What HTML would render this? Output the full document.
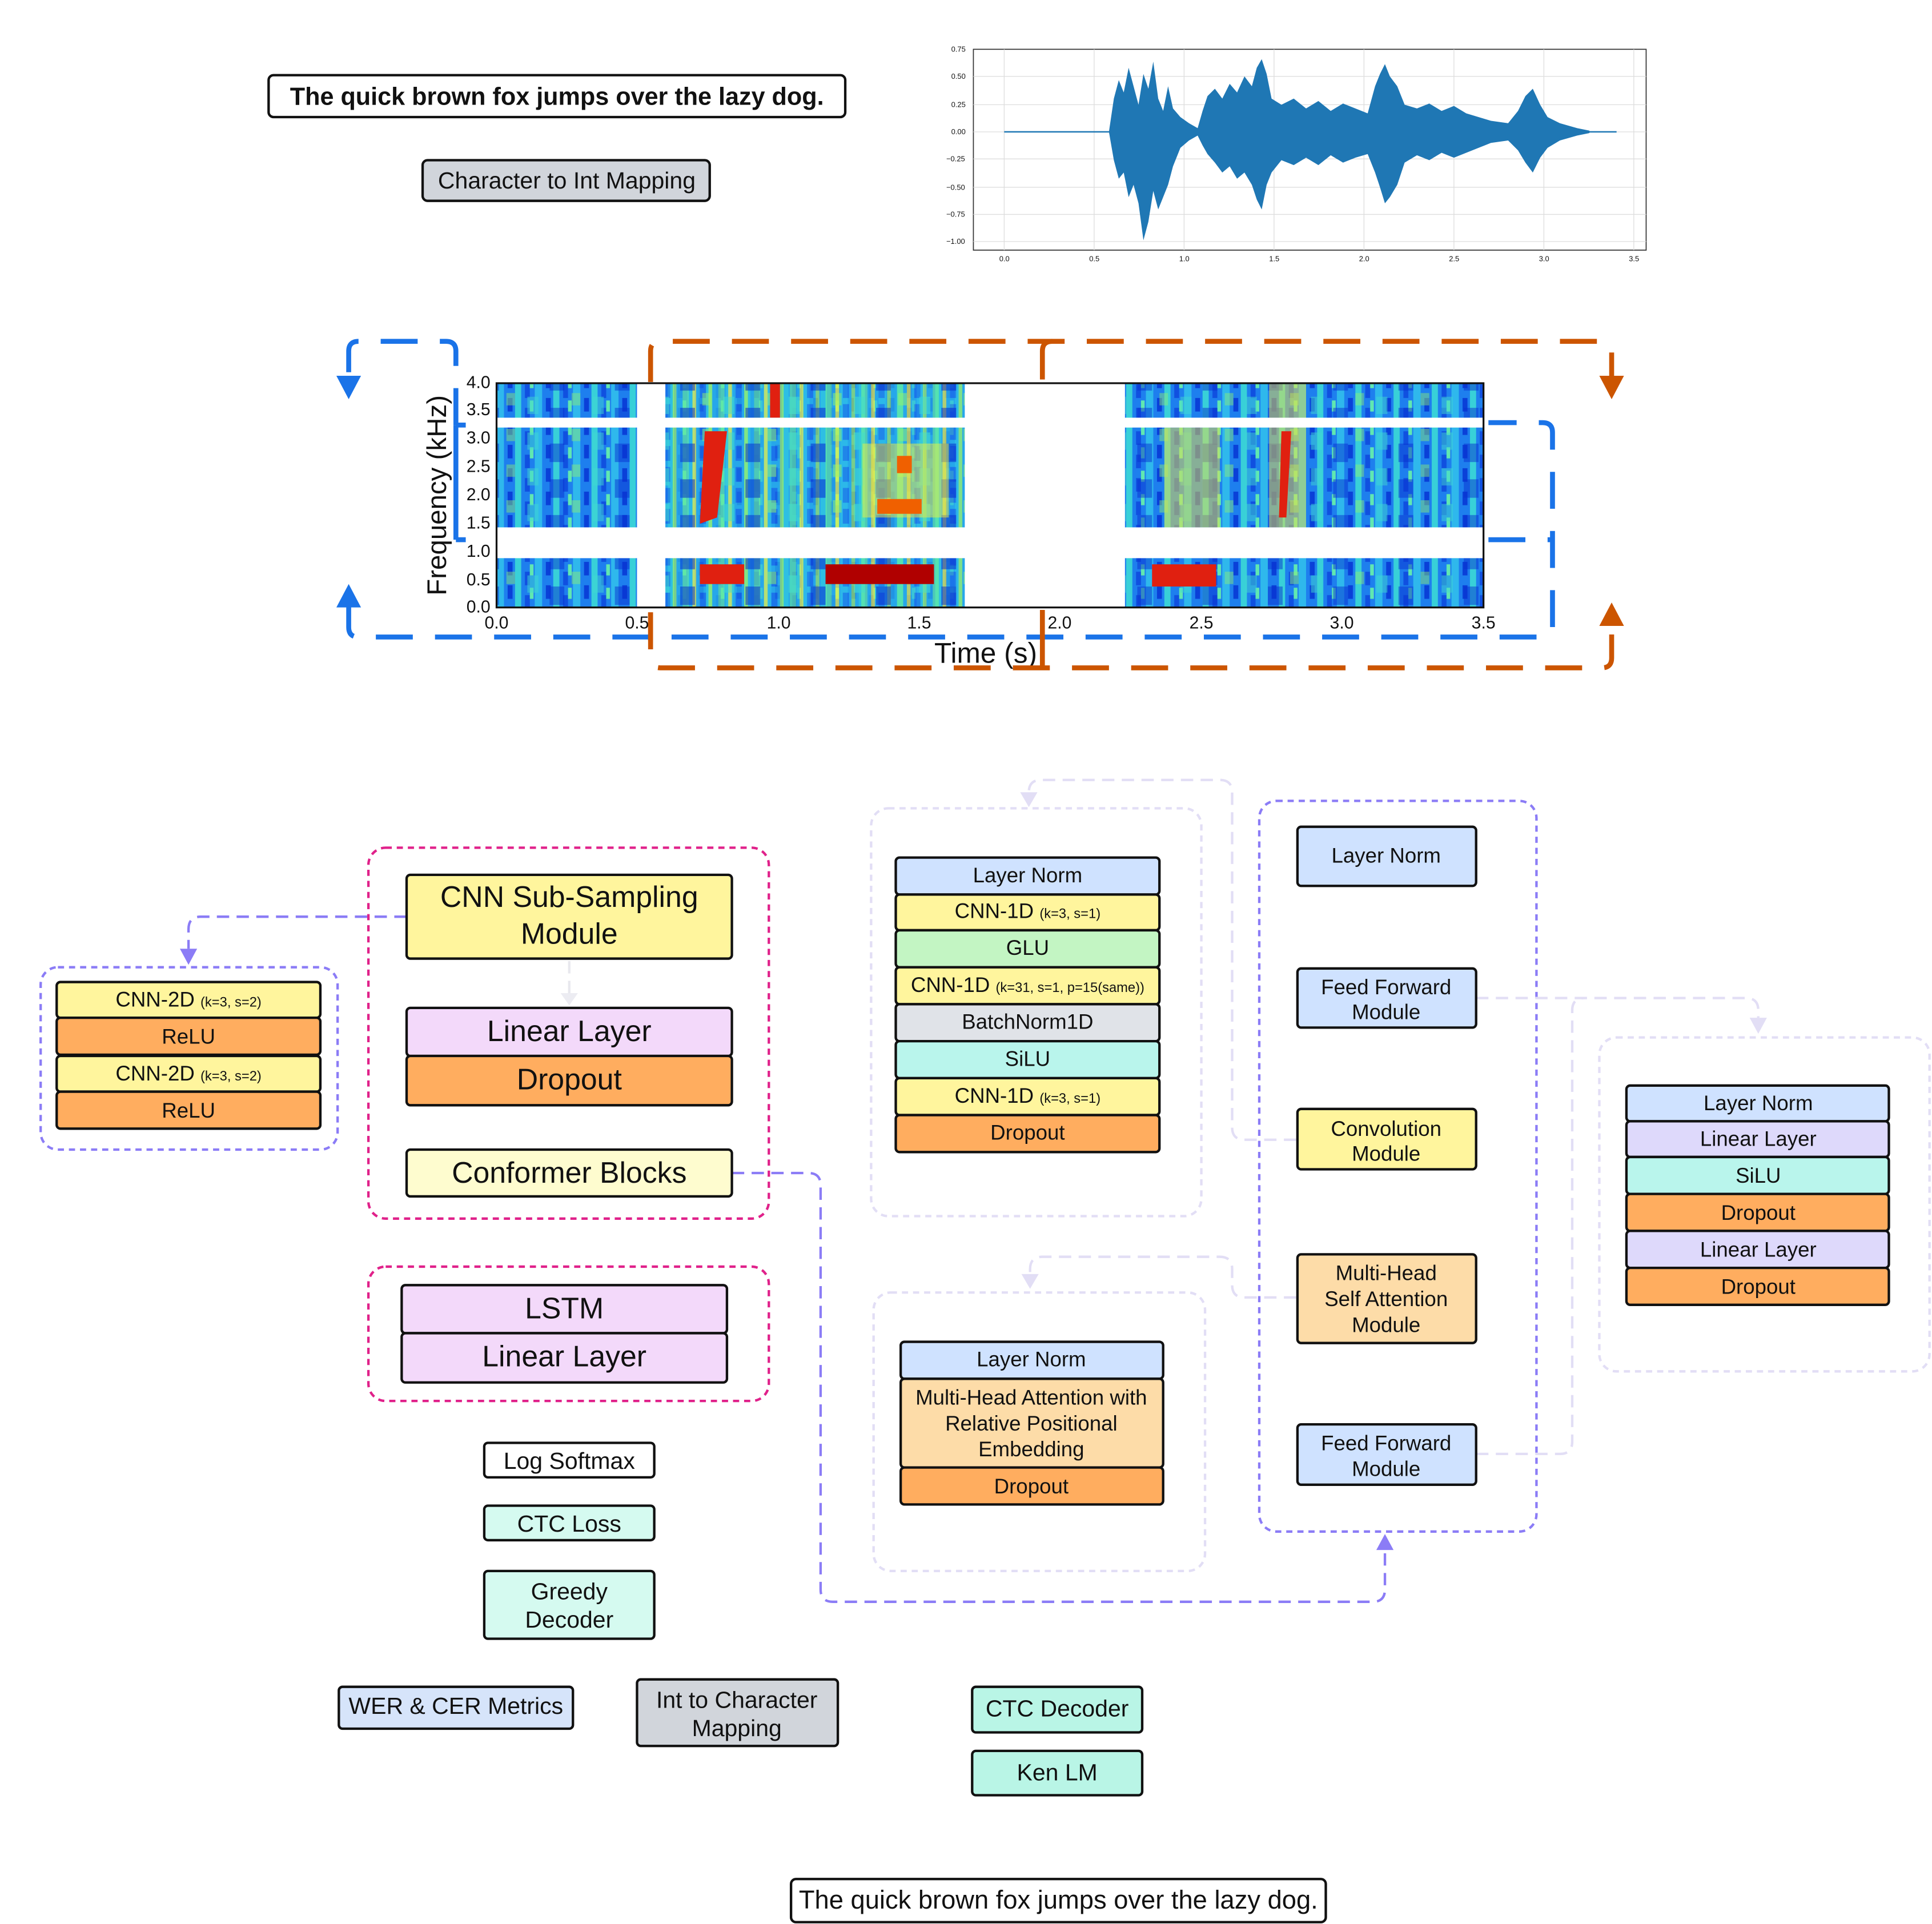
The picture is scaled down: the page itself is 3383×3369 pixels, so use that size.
<!DOCTYPE html>
<html><head><meta charset="utf-8"><style>
html,body{margin:0;padding:0;background:#fff}
svg{display:block}
text{font-family:"Liberation Sans",sans-serif;fill:#111}
.b{stroke:#111;stroke-width:2}
</style></head><body>
<svg width="3383" height="3369" viewBox="0 0 1568 1561.5" xmlns="http://www.w3.org/2000/svg">
<defs>
<pattern id="sp" width="31" height="19" patternUnits="userSpaceOnUse">
<rect width="31" height="19" fill="#1e7fee"/>
<rect x="0" width="6" height="19" fill="#2fb8ec"/>
<rect x="9" y="0" width="4" height="11" fill="#0a40d8"/>
<rect x="15" width="5" height="19" fill="#38d0d8"/>
<rect x="23" y="8" width="4" height="11" fill="#1050e0"/>
<rect x="27" y="2" width="3" height="9" fill="#60e8b0"/>
</pattern>
<pattern id="spb" width="53" height="29" patternUnits="userSpaceOnUse">
<rect x="4" y="3" width="9" height="14" fill="#40d8d0" opacity="0.5"/>
<rect x="22" y="12" width="12" height="15" fill="#0830d0" opacity="0.5"/>
<rect x="40" y="0" width="7" height="10" fill="#90f070" opacity="0.45"/>
</pattern>
<pattern id="sp2" width="29" height="17" patternUnits="userSpaceOnUse">
<rect width="29" height="17" fill="#2ab8e8"/>
<rect x="3" width="5" height="17" fill="#60e8a0"/>
<rect x="11" width="3" height="17" fill="#f0f040"/>
<rect x="17" y="5" width="5" height="12" fill="#1a70e8"/>
<rect x="24" width="3" height="17" fill="#a0f060"/>
</pattern>
</defs>

<rect x="218" y="61" width="468" height="34" rx="4" fill="#fff" class="b"/>
<text x="452" y="85" font-size="20" font-weight="bold" text-anchor="middle">The quick brown fox jumps over the lazy dog.</text>
<rect x="343" y="130" width="233" height="33" rx="4" fill="#d1d5db" class="b"/>
<text x="460" y="153" font-size="19" text-anchor="middle">Character to Int Mapping</text>

<rect x="790" y="40" width="546" height="163" fill="#fff" stroke="#333" stroke-width="0.8"/>
<g stroke="#ddd" stroke-width="0.6">
<line x1="790" y1="62" x2="1336" y2="62"/><line x1="790" y1="85" x2="1336" y2="85"/><line x1="790" y1="107" x2="1336" y2="107"/><line x1="790" y1="129" x2="1336" y2="129"/><line x1="790" y1="152" x2="1336" y2="152"/><line x1="790" y1="174" x2="1336" y2="174"/><line x1="790" y1="196" x2="1336" y2="196"/>
<line x1="815" y1="40" x2="815" y2="203"/><line x1="888" y1="40" x2="888" y2="203"/><line x1="961" y1="40" x2="961" y2="203"/><line x1="1034" y1="40" x2="1034" y2="203"/><line x1="1107" y1="40" x2="1107" y2="203"/><line x1="1180" y1="40" x2="1180" y2="203"/><line x1="1253" y1="40" x2="1253" y2="203"/><line x1="1326" y1="40" x2="1326" y2="203"/>
</g>
<g font-size="6" fill="#333">
<text x="772" y="42">0.75</text><text x="772" y="64">0.50</text><text x="772" y="87">0.25</text><text x="772" y="109">0.00</text><text x="768" y="131">−0.25</text><text x="768" y="154">−0.50</text><text x="768" y="176">−0.75</text><text x="768" y="198">−1.00</text>
<text x="811" y="212">0.0</text><text x="884" y="212">0.5</text><text x="957" y="212">1.0</text><text x="1030" y="212">1.5</text><text x="1103" y="212">2.0</text><text x="1176" y="212">2.5</text><text x="1249" y="212">3.0</text><text x="1322" y="212">3.5</text>
</g>
<line x1="815" y1="107" x2="1312" y2="107" stroke="#1f77b4" stroke-width="1.2"/>
<polygon fill="#1f77b4" points="900,107 904,80 908,65 912,75 916,55 920,70 924,85 928,60 932,72 936,50 940,80 944,90 948,70 952,88 958,95 965,100 972,104 976,90 980,78 986,72 992,80 998,68 1004,75 1010,62 1016,70 1020,55 1024,48 1028,60 1032,80 1040,85 1050,80 1060,88 1070,82 1080,90 1090,84 1100,88 1110,92 1116,70 1120,60 1124,52 1128,62 1134,70 1140,85 1150,88 1160,84 1170,90 1180,86 1190,92 1200,95 1210,98 1224,100 1232,90 1238,78 1244,72 1250,85 1256,95 1266,100 1280,104 1290,106 1290,108 1280,110 1266,114 1256,120 1250,128 1244,140 1238,132 1232,122 1224,114 1210,116 1200,120 1190,124 1180,128 1170,124 1160,130 1150,126 1140,132 1134,150 1128,160 1124,165 1120,152 1116,140 1110,125 1100,128 1090,132 1080,126 1070,134 1060,128 1050,134 1040,130 1032,140 1028,150 1024,170 1020,162 1016,150 1010,140 1004,145 998,135 992,140 986,132 980,125 976,118 972,110 965,114 958,120 952,135 948,150 944,160 940,170 936,155 932,180 928,195 924,165 920,150 916,160 912,140 908,145 904,130"/>

<rect x="403" y="311" width="801" height="182" fill="url(#sp)"/>
<rect x="403" y="311" width="801" height="182" fill="url(#spb)"/>
<rect x="540" y="311" width="243" height="182" fill="url(#sp2)" opacity="0.7"/>
<rect x="540" y="311" width="243" height="182" fill="url(#spb)"/>
<rect x="945" y="347" width="45" height="81" fill="#f0e040" opacity="0.5"/>
<rect x="1030" y="311" width="30" height="117" fill="#f0e040" opacity="0.5"/>
<rect x="700" y="360" width="70" height="60" fill="#f0f040" opacity="0.5"/>
<g fill="#e02010">
<path d="M572,350 L590,350 L582,420 L568,425z"/><rect x="625" y="311" width="8" height="28"/><rect x="568" y="458" width="36" height="16"/><rect x="670" y="458" width="88" height="16" fill="#b00000"/><rect x="712" y="405" width="36" height="12" fill="#f06000"/><rect x="935" y="458" width="52" height="18"/><path d="M1040,350 L1048,350 L1044,420 L1038,420z"/><rect x="728" y="370" width="12" height="14" fill="#f06000"/>
</g>
<rect x="517" y="311" width="23" height="182" fill="#fff"/>
<rect x="783" y="311" width="130" height="182" fill="#fff"/>
<rect x="403" y="339" width="801" height="8" fill="#fff"/>
<rect x="403" y="428" width="801" height="25" fill="#fff"/>
<rect x="403" y="311" width="801" height="182" fill="none" stroke="#111" stroke-width="1.5"/>
<g font-size="14" text-anchor="end">
<text x="398" y="315">4.0</text><text x="398" y="337">3.5</text><text x="398" y="360">3.0</text><text x="398" y="383">2.5</text><text x="398" y="406">2.0</text><text x="398" y="429">1.5</text><text x="398" y="452">1.0</text><text x="398" y="475">0.5</text><text x="398" y="497">0.0</text>
</g>
<g font-size="14" text-anchor="middle">
<text x="403" y="510">0.0</text><text x="517" y="510">0.5</text><text x="632" y="510">1.0</text><text x="746" y="510">1.5</text><text x="860" y="510">2.0</text><text x="975" y="510">2.5</text><text x="1089" y="510">3.0</text><text x="1204" y="510">3.5</text>
</g>
<text x="800" y="538" font-size="23" text-anchor="middle">Time (s)</text>
<text transform="translate(362,402) rotate(-90)" font-size="22" text-anchor="middle">Frequency (kHz)</text>

<g fill="none" stroke="#1a73e8" stroke-width="4" stroke-dasharray="30,18">
<path d="M370,345 V285 Q370,277 362,277 H291 Q283,277 283,285 V310"/>
<path d="M283,488 V509 Q283,517 291,517 H1252 Q1260,517 1260,509 V351 Q1260,343 1252,343 H1208"/>
<path d="M1208,438 H1260"/>
</g>
<path d="M370,345 V438" stroke="#1a73e8" stroke-width="4" fill="none"/>
<path d="M370,345 H378 M370,438 H378" stroke="#1a73e8" stroke-width="4"/>
<path d="M273,305 L293,305 L283,324z" fill="#1a73e8"/>
<path d="M273,493 L293,493 L283,474z" fill="#1a73e8"/>

<g fill="none" stroke="#cc5500" stroke-width="4" stroke-dasharray="30,18">
<path d="M528,310 V285 Q528,277 536,277 H1300 Q1308,277 1308,285 V312"/>
<path d="M528,497 V534 Q528,542 536,542 H1300 Q1308,542 1308,534 V505"/>
</g>
<path d="M846,308 V285 Q846,277 854,277 M846,495 V542" stroke="#cc5500" stroke-width="4" fill="none"/>
<path d="M528,497 V520" stroke="#cc5500" stroke-width="4"/>
<path d="M1298,305 L1318,305 L1308,324z" fill="#cc5500"/>
<path d="M1298,508 L1318,508 L1308,489z" fill="#cc5500"/>

<rect x="299" y="688" width="325" height="301" rx="14" fill="none" stroke="#e0218a" stroke-width="2" stroke-dasharray="5,4"/>
<rect x="299" y="1028" width="325" height="109" rx="14" fill="none" stroke="#e0218a" stroke-width="2" stroke-dasharray="5,4"/>
<rect x="33" y="785" width="241" height="148" rx="14" fill="none" stroke="#8b7cf6" stroke-width="2" stroke-dasharray="5,4"/>
<rect x="707" y="656" width="268" height="331" rx="14" fill="none" stroke="#e2def5" stroke-width="2" stroke-dasharray="5,4"/>
<rect x="709" y="1049" width="269" height="226" rx="14" fill="none" stroke="#e2def5" stroke-width="2" stroke-dasharray="5,4"/>
<rect x="1022" y="650" width="225" height="593" rx="14" fill="none" stroke="#8b7cf6" stroke-width="2" stroke-dasharray="5,4"/>
<rect x="1298" y="842" width="268" height="271" rx="14" fill="none" stroke="#e2def5" stroke-width="2" stroke-dasharray="5,4"/>

<g fill="none" stroke-width="2" stroke-dasharray="10,6">
<path d="M330,744 H163 Q153,744 153,754 V770" stroke="#8b7cf6"/>
<path d="M594,952 H656 Q666,952 666,962 V1290 Q666,1300 676,1300 H1114 Q1124,1300 1124,1290 V1258" stroke="#8b7cf6"/>
<path d="M1052,925 H1010 Q1000,925 1000,915 V643 Q1000,633 990,633 H845 Q835,633 835,643 V645" stroke="#e2def5"/>
<path d="M1052,1053 H1010 Q1000,1053 1000,1043 V1030 Q1000,1020 990,1020 H846 Q836,1020 836,1030 V1035" stroke="#e2def5"/>
<path d="M1198,810 H1417 Q1427,810 1427,820 V826" stroke="#e2def5"/>
<path d="M1198,1180 H1266 Q1276,1180 1276,1170 V820 Q1276,810 1286,810" stroke="#e2def5"/>
<path d="M462,780 V806" stroke="#e8e8ee"/>
</g>
<path d="M146,770 L160,770 L153,783z" fill="#8b7cf6"/>
<path d="M1117,1258 L1131,1258 L1124,1245z" fill="#8b7cf6"/>
<path d="M828,643 L842,643 L835,655z" fill="#e2def5"/>
<path d="M829,1034 L843,1034 L836,1046z" fill="#e2def5"/>
<path d="M1420,826 L1434,826 L1427,839z" fill="#e2def5"/>
<path d="M455,806 L469,806 L462,816z" fill="#ececf2"/>

<rect x="330" y="710" width="264" height="68" rx="3" fill="#fff59d" class="b"/>
<text x="462" y="736" font-size="24" text-anchor="middle">CNN Sub-Sampling</text>
<text x="462" y="766" font-size="24" text-anchor="middle">Module</text>
<rect x="330" y="818" width="264" height="39" rx="3" fill="#f3d9fa" class="b"/>
<text x="462" y="845" font-size="24" text-anchor="middle">Linear Layer</text>
<rect x="330" y="857" width="264" height="40" rx="3" fill="#ffad5f" class="b"/>
<text x="462" y="884" font-size="24" text-anchor="middle">Dropout</text>
<rect x="330" y="933" width="264" height="38" rx="3" fill="#fefccf" class="b"/>
<text x="462" y="960" font-size="24" text-anchor="middle">Conformer Blocks</text>
<rect x="326" y="1043" width="264" height="39" rx="3" fill="#f3d9fa" class="b"/>
<text x="458" y="1070" font-size="24" text-anchor="middle">LSTM</text>
<rect x="326" y="1082" width="264" height="40" rx="3" fill="#f3d9fa" class="b"/>
<text x="458" y="1109" font-size="24" text-anchor="middle">Linear Layer</text>

<rect x="393" y="1171" width="138" height="28" rx="3" fill="#fff" class="b"/>
<text x="462" y="1192" font-size="19" text-anchor="middle">Log Softmax</text>
<rect x="393" y="1222" width="138" height="28" rx="3" fill="#d5faf0" class="b"/>
<text x="462" y="1243" font-size="19" text-anchor="middle">CTC Loss</text>
<rect x="393" y="1275" width="138" height="55" rx="3" fill="#d5faf0" class="b"/>
<text x="462" y="1298" font-size="19" text-anchor="middle">Greedy</text>
<text x="462" y="1321" font-size="19" text-anchor="middle">Decoder</text>
<rect x="275" y="1369" width="190" height="34" rx="3" fill="#d6e4fa" class="b"/>
<text x="370" y="1391" font-size="19" text-anchor="middle">WER &amp; CER Metrics</text>
<rect x="517" y="1363" width="163" height="54" rx="3" fill="#d1d5db" class="b"/>
<text x="598" y="1386" font-size="19" text-anchor="middle">Int to Character</text>
<text x="598" y="1409" font-size="19" text-anchor="middle">Mapping</text>
<rect x="789" y="1369" width="138" height="37" rx="3" fill="#b9f5e6" class="b"/>
<text x="858" y="1393" font-size="19" text-anchor="middle">CTC Decoder</text>
<rect x="789" y="1421" width="138" height="36" rx="3" fill="#b9f5e6" class="b"/>
<text x="858" y="1445" font-size="19" text-anchor="middle">Ken LM</text>
<rect x="642" y="1525" width="434" height="35" rx="4" fill="#fff" class="b"/>
<text x="859" y="1549" font-size="21" text-anchor="middle">The quick brown fox jumps over the lazy dog.</text>

<g font-size="17" text-anchor="middle">
<rect x="46" y="797" width="214" height="29" rx="3" fill="#fff59d" class="b"/>
<text x="153" y="817">CNN-2D <tspan font-size="11">(k=3, s=2)</tspan></text>
<rect x="46" y="826" width="214" height="30" rx="3" fill="#ffad5f" class="b"/>
<text x="153" y="847">ReLU</text>
<rect x="46" y="857" width="214" height="29" rx="3" fill="#fff59d" class="b"/>
<text x="153" y="877">CNN-2D <tspan font-size="11">(k=3, s=2)</tspan></text>
<rect x="46" y="886" width="214" height="30" rx="3" fill="#ffad5f" class="b"/>
<text x="153" y="907">ReLU</text>

<rect x="727" y="696" width="214" height="30" rx="3" fill="#cfe2ff" class="b"/>
<text x="834" y="716">Layer Norm</text>
<rect x="727" y="726" width="214" height="29" rx="3" fill="#fff59d" class="b"/>
<text x="834" y="745">CNN-1D <tspan font-size="11">(k=3, s=1)</tspan></text>
<rect x="727" y="755" width="214" height="30" rx="3" fill="#c3f5c3" class="b"/>
<text x="834" y="775">GLU</text>
<rect x="727" y="785" width="214" height="30" rx="3" fill="#fff59d" class="b"/>
<text x="834" y="805">CNN-1D <tspan font-size="11">(k=31, s=1, p=15(same))</tspan></text>
<rect x="727" y="815" width="214" height="30" rx="3" fill="#e0e3e8" class="b"/>
<text x="834" y="835">BatchNorm1D</text>
<rect x="727" y="845" width="214" height="30" rx="3" fill="#b9f5ec" class="b"/>
<text x="834" y="865">SiLU</text>
<rect x="727" y="875" width="214" height="30" rx="3" fill="#fff59d" class="b"/>
<text x="834" y="895">CNN-1D <tspan font-size="11">(k=3, s=1)</tspan></text>
<rect x="727" y="905" width="214" height="30" rx="3" fill="#ffad5f" class="b"/>
<text x="834" y="925">Dropout</text>

<rect x="731" y="1089" width="213" height="30" rx="3" fill="#cfe2ff" class="b"/>
<text x="837" y="1109">Layer Norm</text>
<rect x="731" y="1119" width="213" height="72" rx="3" fill="#fddca8" class="b"/>
<text x="837" y="1140">Multi-Head Attention with</text>
<text x="837" y="1161">Relative Positional</text>
<text x="837" y="1182">Embedding</text>
<rect x="731" y="1191" width="213" height="30" rx="3" fill="#ffad5f" class="b"/>
<text x="837" y="1212">Dropout</text>

<rect x="1053" y="671" width="145" height="48" rx="3" fill="#cfe2ff" class="b"/>
<text x="1125" y="700">Layer Norm</text>
<rect x="1053" y="786" width="145" height="48" rx="3" fill="#cfe2ff" class="b"/>
<text x="1125" y="807">Feed Forward</text><text x="1125" y="827">Module</text>
<rect x="1053" y="900" width="145" height="49" rx="3" fill="#fff59d" class="b"/>
<text x="1125" y="922">Convolution</text><text x="1125" y="942">Module</text>
<rect x="1053" y="1018" width="145" height="72" rx="3" fill="#fddca8" class="b"/>
<text x="1125" y="1039">Multi-Head</text><text x="1125" y="1060">Self Attention</text><text x="1125" y="1081">Module</text>
<rect x="1053" y="1156" width="145" height="49" rx="3" fill="#cfe2ff" class="b"/>
<text x="1125" y="1177">Feed Forward</text><text x="1125" y="1198">Module</text>

<rect x="1320" y="881" width="213" height="29" rx="3" fill="#cfe2ff" class="b"/>
<text x="1427" y="901">Layer Norm</text>
<rect x="1320" y="910" width="213" height="29" rx="3" fill="#ded9fb" class="b"/>
<text x="1427" y="930">Linear Layer</text>
<rect x="1320" y="939" width="213" height="30" rx="3" fill="#b9f5ec" class="b"/>
<text x="1427" y="960">SiLU</text>
<rect x="1320" y="969" width="213" height="30" rx="3" fill="#ffad5f" class="b"/>
<text x="1427" y="990">Dropout</text>
<rect x="1320" y="999" width="213" height="30" rx="3" fill="#ded9fb" class="b"/>
<text x="1427" y="1020">Linear Layer</text>
<rect x="1320" y="1029" width="213" height="30" rx="3" fill="#ffad5f" class="b"/>
<text x="1427" y="1050">Dropout</text>
</g>
</svg>
</body></html>
